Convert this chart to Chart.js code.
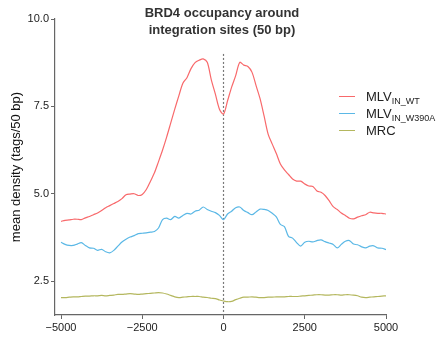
<!DOCTYPE html>
<html><head><meta charset="utf-8">
<script src="https://cdn.jsdelivr.net/npm/chart.js@4"></script>
<style>
html,body{margin:0;padding:0;background:#fff;}
#wrap{position:relative;width:448px;height:341px;font-family:"Liberation Sans",Arial,sans-serif;}
#title{position:absolute;left:122px;width:200px;top:4px;text-align:center;font-weight:bold;font-size:13px;line-height:17px;color:#333;}
#legend{position:absolute;left:335px;top:88px;font-size:13px;color:#222;}
.item{position:relative;height:17px;white-space:nowrap;}
.item .ln{position:absolute;left:4px;top:8px;width:16px;height:1.3px;}
.item .tx{position:absolute;left:31px;top:0px;line-height:17px;}
.item sub{font-size:9px;vertical-align:-3px;line-height:0;}
</style></head>
<body><div id="wrap"><canvas id="c" width="448" height="341"></canvas>
<div id="title">BRD4 occupancy around<br>integration sites (50 bp)</div>
<div id="legend"></div></div>
<script>
const positions = [-5000,-4875,-4750,-4625,-4500,-4375,-4250,-4125,-4000,-3875,-3750,-3625,-3500,-3375,-3250,-3125,-3000,-2875,-2750,-2625,-2500,-2375,-2250,-2125,-2000,-1875,-1750,-1625,-1500,-1375,-1250,-1125,-1000,-875,-750,-625,-500,-375,-250,-125,0,125,250,375,500,625,750,875,1000,1125,1250,1375,1500,1625,1750,1875,2000,2125,2250,2375,2500,2625,2750,2875,3000,3125,3250,3375,3500,3625,3750,3875,4000,4125,4250,4375,4500,4625,4750,4875,5000];
const wtValues = [4.21,4.24,4.25,4.27,4.27,4.26,4.31,4.35,4.40,4.45,4.52,4.60,4.66,4.72,4.78,4.86,4.97,4.99,5.00,4.95,4.98,5.12,5.35,5.60,5.92,6.25,6.62,7.02,7.42,7.80,8.16,8.32,8.58,8.75,8.82,8.86,8.76,8.26,7.85,7.42,7.28,7.66,8.05,8.38,8.76,8.68,8.64,8.48,8.10,7.72,7.22,6.70,6.42,6.15,5.85,5.68,5.55,5.42,5.36,5.36,5.28,5.22,5.21,5.08,5.04,4.95,4.80,4.63,4.55,4.45,4.38,4.30,4.28,4.33,4.37,4.40,4.47,4.45,4.44,4.44,4.42];
const w390aValues = [3.61,3.55,3.52,3.52,3.56,3.60,3.52,3.45,3.44,3.38,3.41,3.34,3.31,3.38,3.50,3.62,3.70,3.76,3.80,3.86,3.87,3.88,3.90,3.92,4.02,4.26,4.30,4.26,4.35,4.30,4.38,4.44,4.42,4.50,4.53,4.62,4.55,4.50,4.46,4.38,4.26,4.42,4.50,4.60,4.62,4.52,4.46,4.40,4.48,4.56,4.55,4.52,4.44,4.34,4.12,4.06,3.78,3.73,3.60,3.50,3.61,3.64,3.62,3.66,3.68,3.63,3.59,3.55,3.45,3.55,3.64,3.66,3.56,3.54,3.48,3.45,3.50,3.51,3.45,3.44,3.40];
const mrcValues = [2.03,2.03,2.04,2.05,2.05,2.06,2.07,2.07,2.08,2.08,2.09,2.08,2.09,2.10,2.12,2.12,2.13,2.14,2.13,2.12,2.13,2.14,2.15,2.16,2.17,2.16,2.13,2.09,2.05,2.03,2.04,2.05,2.06,2.06,2.06,2.04,2.03,2.01,2.00,1.96,1.93,1.91,1.92,1.97,2.01,2.04,2.04,2.05,2.04,2.03,2.03,2.04,2.04,2.05,2.05,2.05,2.06,2.06,2.06,2.07,2.08,2.09,2.10,2.11,2.11,2.10,2.10,2.11,2.11,2.10,2.11,2.11,2.10,2.08,2.04,2.03,2.04,2.05,2.06,2.07,2.08];
const seriesNames = [["MLV","IN_WT"],["MLV","IN_W390A"],["MRC",""]];
const seriesColors = ["#F8696B","#5BB8E6","#B4B75E"];
const xTicks = [-5000,-2500,0,2500,5000];
const yTicks = [2.5,5.0,7.5,10.0];
const markerLine = [[0,9.0],[0,1.53]];

const seriesVals = [wtValues,w390aValues,mrcValues];
const datasets = seriesVals.map((v,i)=>({
  label: seriesNames[i].join(" "),
  data: positions.map((p,j)=>({x:p,y:v[j]})),
  borderColor: seriesColors[i], borderWidth: 1.2, pointRadius: 0, tension: 0.3, fill:false
}));
datasets.push({label:"center",data:markerLine.map(p=>({x:p[0],y:p[1]})),borderColor:"#777",borderWidth:1.2,borderDash:[2,2],pointRadius:0});

const fnt = {family:"'Liberation Sans', Arial, sans-serif", size:11};
new Chart(document.getElementById("c"),{
  type:"line",
  data:{datasets},
  options:{
    responsive:false, animation:false, devicePixelRatio:1,
    layout:{padding:{left:0,right:62,top:19,bottom:0}},
    plugins:{legend:{display:false},title:{display:false},tooltip:{enabled:false}},
    scales:{
      x:{type:"linear",min:-5185,max:5000,
        afterBuildTicks:s=>{s.ticks=xTicks.map(v=>({value:v}));},
        afterFit:s=>{s.height=26;},
        grid:{display:true,drawOnChartArea:false,drawTicks:true,tickLength:4,color:"#666",lineWidth:1},
        border:{display:true,color:"#666",width:1.2},
        ticks:{font:fnt,color:"#222",padding:2,maxRotation:0,autoSkip:false,
          callback:v=>v<0?"\u2212"+Math.abs(v):String(v)}},
      y:{type:"linear",min:1.53,max:10,
        afterBuildTicks:s=>{s.ticks=yTicks.map(v=>({value:v}));},
        afterFit:s=>{s.width=55;},
        grid:{display:true,drawOnChartArea:false,drawTicks:true,tickLength:4,color:"#666",lineWidth:1},
        border:{display:true,color:"#666",width:1.2},
        title:{display:true,text:"mean density (tags/50 bp)",font:{family:fnt.family,size:13},color:"#111",padding:{top:9,bottom:0}},
        ticks:{font:fnt,color:"#222",padding:2,autoSkip:false,callback:v=>Number(v).toFixed(1)}}
    }
  }
});

const lg=document.getElementById("legend");
seriesNames.forEach((n,i)=>{
  const d=document.createElement("div");d.className="item";
  const l=document.createElement("div");l.className="ln";l.style.background=seriesColors[i];
  const t=document.createElement("div");t.className="tx";
  t.appendChild(document.createTextNode(n[0]));
  if(n[1]){const s=document.createElement("sub");s.textContent=n[1];t.appendChild(s);}
  d.appendChild(l);d.appendChild(t);lg.appendChild(d);
});
</script></body></html>
